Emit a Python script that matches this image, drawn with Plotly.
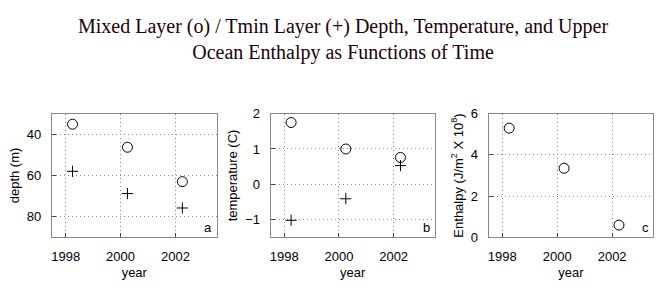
import plotly.graph_objects as go

years = [1998.25, 2000.25, 2002.25]
mixed_depth = [35.1, 46.3, 63.0]
tmin_depth = [58.0, 68.8, 75.8]
mixed_temp = [1.75, 1.0, 0.76]
tmin_temp = [-1.02, -0.41, 0.53]
enthalpy = [5.3, 3.35, 0.59]
x_ticks = [1998, 2000, 2002]

fig = go.Figure()
circ = dict(symbol="circle-open", size=10, color="black", line=dict(width=1))
plus = dict(symbol="cross-thin-open", size=8, color="black", line=dict(width=1, color="#222"))

fig.add_trace(go.Scatter(x=years, y=mixed_depth, mode="markers", marker=circ, xaxis="x", yaxis="y"))
fig.add_trace(go.Scatter(x=years, y=tmin_depth, mode="markers", marker=plus, xaxis="x", yaxis="y"))
fig.add_trace(go.Scatter(x=years, y=mixed_temp, mode="markers", marker=circ, xaxis="x2", yaxis="y2"))
fig.add_trace(go.Scatter(x=years, y=tmin_temp, mode="markers", marker=plus, xaxis="x2", yaxis="y2"))
fig.add_trace(go.Scatter(x=years, y=enthalpy, mode="markers", marker=circ, xaxis="x3", yaxis="y3"))

font = dict(family="Liberation Sans, Arial, sans-serif", size=13, color="black")
W, H = 665, 301
ydom = [1 - 242.3 / H, 1 - 112.3 / H]
xdoms = [[51 / W, 216 / W], [270 / W, 434.3 / W], [488.3 / W, 653.3 / W]]
grid = dict(showgrid=True, gridcolor="#888", griddash="1px,3px", gridwidth=1)

def xax(dom, anchor):
    return dict(domain=dom, anchor=anchor, range=[1997.5, 2003.5], tickvals=x_ticks,
                ticks="inside", ticklen=4, tickcolor="#444", showline=True, mirror=True,
                linecolor="#888", linewidth=1, zeroline=False, tickfont=font, ticklabelstandoff=7,
                title=dict(text="year", font=font, standoff=5), **grid)

def yax(dom, anchor, rng, tv, title):
    return dict(domain=dom, anchor=anchor, range=rng, tickvals=tv,
                ticks="inside", ticklen=4, tickcolor="#444", showline=True, mirror=True,
                linecolor="#888", linewidth=1, zeroline=False, tickfont=font, ticklabelstandoff=7,
                title=dict(text=title, font=font, standoff=4), **grid)

fig.update_layout(
    width=W, height=H, margin=dict(l=0, r=0, t=0, b=0),
    paper_bgcolor="white", plot_bgcolor="white", showlegend=False,
    xaxis=xax(xdoms[0], "y"),
    yaxis=yax(ydom, "x", [90, 30], [40, 60, 80], "depth (m)"),
    xaxis2=xax(xdoms[1], "y2"),
    yaxis2=yax(ydom, "x2", [-1.5, 2], [-1, 0, 1, 2], "temperature (C)"),
    xaxis3=xax(xdoms[2], "y3"),
    yaxis3=yax(ydom, "x3", [0, 6], [0, 2, 4, 6], "Enthalpy (J/m<sup>2</sup> X 10<sup>8</sup>)"),
)

fig.add_annotation(text="Mixed Layer (o) / Tmin Layer (+) Depth, Temperature, and Upper<br>Ocean Enthalpy as Functions of Time",
                   x=0.515, y=1 - 6 / H, xref="paper", yref="paper", xanchor="center", yanchor="top",
                   showarrow=False, align="center",
                   font=dict(family="Liberation Serif, Times New Roman, serif", size=20, color="#22000a"))

for i, lab in enumerate(["a", "b", "c"]):
    suf = "" if i == 0 else str(i + 1)
    fig.add_annotation(text=lab, x=0.985, y=0.0, xref="x%s domain" % suf, yref="y%s domain" % suf,
                       xanchor="right", yanchor="bottom", showarrow=False, font=font)

fig.write_html("out.html")
